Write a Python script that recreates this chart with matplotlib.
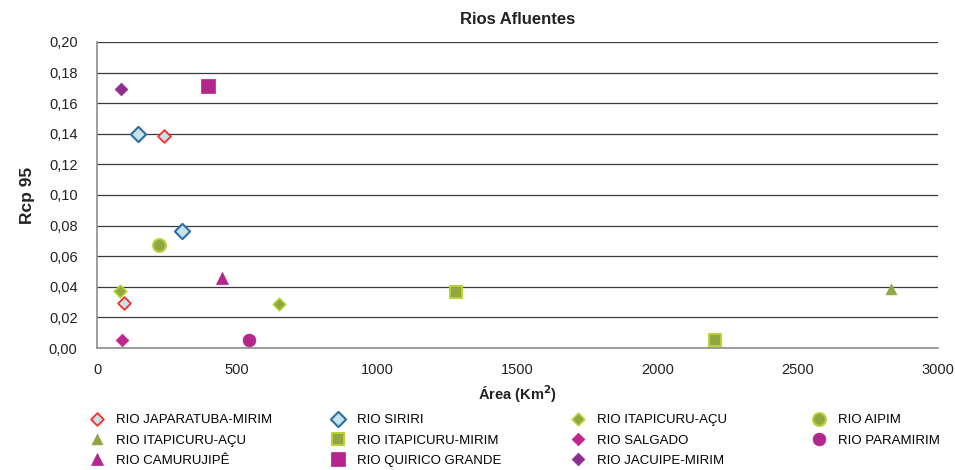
import matplotlib
matplotlib.use("Agg")
import matplotlib.pyplot as plt
from matplotlib.ticker import FuncFormatter

plt.rcParams['font.family'] = ['Liberation Sans', 'DejaVu Sans']

# River series: area (km2) and Rcp95
japaratuba_area = [240, 97]
japaratuba_rcp = [0.1386, 0.0292]
siriri_area = [147, 303]
siriri_rcp = [0.140, 0.0765]
itapicuru_acu_d_area = [82, 650]
itapicuru_acu_d_rcp = [0.037, 0.029]
aipim_area = [220]
aipim_rcp = [0.0675]
itapicuru_acu_t_area = [2833]
itapicuru_acu_t_rcp = [0.0386]
itapicuru_mirim_area = [1281, 2205]
itapicuru_mirim_rcp = [0.0366, 0.005]
salgado_area = [90]
salgado_rcp = [0.0052]
paramirim_area = [542]
paramirim_rcp = [0.005]
camurujipe_area = [445]
camurujipe_rcp = [0.046]
quirico_area = [395]
quirico_rcp = [0.1714]
jacuipe_area = [86]
jacuipe_rcp = [0.169]

x_ticks = [0, 500, 1000, 1500, 2000, 2500, 3000]
y_ticks = [0.00, 0.02, 0.04, 0.06, 0.08, 0.10, 0.12, 0.14, 0.16, 0.18, 0.20]

fig = plt.figure(figsize=(9.55, 4.70), dpi=100)
ax = fig.add_axes([97/955, 1-348/470, (938-97)/955, (348-42)/470])

olive = '#8FA641'
lime = '#B5D334'
magenta = '#B5268C'
purple = '#8E2D8E'
light = '#C5E3EA'

series = [
    ("RIO JAPARATUBA-MIRIM", japaratuba_area, japaratuba_rcp, dict(marker='D', s=42, facecolor=light, edgecolor='#FF2A2A', linewidths=1.3)),
    ("RIO SIRIRI", siriri_area, siriri_rcp, dict(marker='D', s=60, facecolor=light, edgecolor='#2E6DA4', linewidths=1.5)),
    ("RIO ITAPICURU-AÇU", itapicuru_acu_d_area, itapicuru_acu_d_rcp, dict(marker='D', s=40, facecolor=olive, edgecolor=lime, linewidths=1.2)),
    ("RIO AIPIM", aipim_area, aipim_rcp, dict(marker='o', s=85, facecolor=olive, edgecolor=lime, linewidths=1.5)),
    ("RIO ITAPICURU-AÇU", itapicuru_acu_t_area, itapicuru_acu_t_rcp, dict(marker='^', s=60, facecolor=olive, edgecolor=olive, linewidths=0.5)),
    ("RIO ITAPICURU-MIRIM", itapicuru_mirim_area, itapicuru_mirim_rcp, dict(marker='s', s=70, facecolor=olive, edgecolor=lime, linewidths=1.5)),
    ("RIO SALGADO", salgado_area, salgado_rcp, dict(marker='D', s=42, facecolor='#C0268E', edgecolor='#C0268E', linewidths=0.5)),
    ("RIO PARAMIRIM", paramirim_area, paramirim_rcp, dict(marker='o', s=85, facecolor=magenta, edgecolor=magenta, linewidths=0.5)),
    ("RIO CAMURUJIPÊ", camurujipe_area, camurujipe_rcp, dict(marker='^', s=75, facecolor=magenta, edgecolor=magenta, linewidths=0.5)),
    ("RIO QUIRICO GRANDE", quirico_area, quirico_rcp, dict(marker='s', s=95, facecolor=magenta, edgecolor=magenta, linewidths=0.5)),
    ("RIO JACUIPE-MIRIM", jacuipe_area, jacuipe_rcp, dict(marker='D', s=42, facecolor=purple, edgecolor=purple, linewidths=0.5)),
]

handles = []
for name, xs, ys, style in series:
    handles.append(ax.scatter(xs, ys, label=name, zorder=3, **style))

ax.set_xlim(0, 3000)
ax.set_ylim(0, 0.20)
ax.set_xticks(x_ticks)
ax.set_yticks(y_ticks)
ax.yaxis.set_major_formatter(FuncFormatter(lambda v, p: f"{v:.2f}".replace('.', ',')))
ax.tick_params(axis='both', length=0, labelsize=10.5, colors='#222222')
ax.tick_params(axis='y', pad=14)
ax.tick_params(axis='x', pad=11)
ax.grid(axis='y', color='#3a3a3a', linewidth=0.9, zorder=0)
ax.set_axisbelow(True)
for side in ['top', 'right']:
    ax.spines[side].set_visible(False)
for side in ['left', 'bottom']:
    ax.spines[side].set_color('#8c8c8c')
    ax.spines[side].set_linewidth(1.2)

ax.set_title("Rios Afluentes", fontsize=12, fontweight='bold', pad=13, color='#222222')
ax.set_ylabel("Rcp 95", fontsize=12.5, fontweight='bold', labelpad=10, color='#222222')
ax.set_xlabel("Área (Km$^\\mathbf{2}$)", fontsize=10.5, fontweight='bold', labelpad=4, color='#222222')

# Legend laid out as 4 columns filled row by row
col_x = [90, 331, 571, 812]
for c in range(4):
    hs = handles[c::4]
    fig.legend(handles=hs, labels=[h.get_label() for h in hs],
               loc='upper left', bbox_to_anchor=(col_x[c]/955, 1-414/470),
               frameon=False, fontsize=9.5, handlelength=1.0, handletextpad=1.0,
               labelspacing=0.62, borderpad=0, borderaxespad=0,
               scatteryoffsets=[0.5])

fig.savefig("out.png", dpi=100)
